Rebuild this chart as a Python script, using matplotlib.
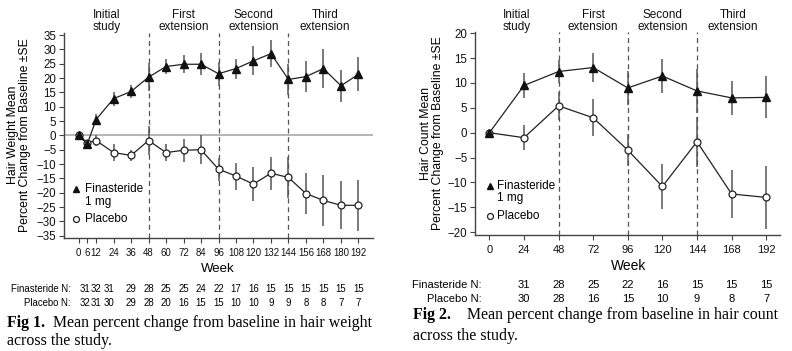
import matplotlib
matplotlib.use('Agg')
import matplotlib.pyplot as plt
import matplotlib.transforms as mtransforms

# ---- Fig 1: hair weight ----
weeks_w = [0, 6, 12, 24, 36, 48, 60, 72, 84, 96, 108, 120, 132, 144, 156, 168, 180, 192]
fin_w = [0, -3.0, 5.5, 12.8, 15.3, 20.3, 24.0, 24.8, 24.8, 21.5, 23.3, 26.0, 28.5, 19.5, 20.5, 23.3, 17.3, 21.3]
fin_w_se = [0.5, 1.0, 2.0, 2.4, 2.3, 5.0, 2.7, 3.2, 3.8, 4.2, 3.5, 5.0, 4.7, 5.5, 5.3, 6.7, 5.5, 6.0]
pla_w = [0, -2.5, -1.8, -6.0, -7.0, -1.8, -6.0, -5.2, -5.0, -11.8, -14.2, -17.0, -13.2, -14.7, -20.3, -22.7, -24.4, -24.4]
pla_w_se = [0.5, 1.0, 1.8, 3.0, 2.0, 5.0, 3.0, 4.0, 5.0, 4.0, 4.7, 6.0, 5.8, 7.3, 7.3, 8.8, 8.4, 9.0]
n_weeks_w = [6, 12, 24, 36, 48, 60, 72, 84, 96, 108, 120, 132, 144, 156, 168, 180, 192]
fin_n_w = [31, 32, 31, 29, 28, 25, 25, 24, 22, 17, 16, 15, 15, 15, 15, 15, 15]
pla_n_w = [32, 31, 30, 29, 28, 20, 16, 15, 15, 10, 10, 9, 9, 8, 8, 7, 7]

# ---- Fig 2: hair count ----
weeks_c = [0, 24, 48, 72, 96, 120, 144, 168, 192]
fin_c = [0, 9.5, 12.3, 13.1, 9.0, 11.4, 8.4, 7.0, 7.1]
fin_c_se = [0.4, 2.5, 2.4, 2.9, 3.4, 3.5, 4.5, 3.4, 4.2]
pla_c = [0, -1.0, 5.4, 3.0, -3.5, -10.8, -1.8, -12.3, -13.0]
pla_c_se = [0.4, 2.5, 2.8, 3.7, 3.2, 4.6, 5.0, 4.9, 6.3]
n_weeks_c = [24, 48, 72, 96, 120, 144, 168, 192]
fin_n_c = [31, 28, 25, 22, 16, 15, 15, 15]
pla_n_c = [30, 28, 16, 15, 10, 9, 8, 7]

phase_names = ['Initial\nstudy', 'First\nextension', 'Second\nextension', 'Third\nextension']
phase_centers = [19, 72, 120, 169]
phase_breaks = [48, 96, 144]

# the first N columns of Fig 1 are squeezed together, nudge them apart (pixels)
n_nudge_w = [-2.5, 0, -5]

W, H = 792, 351
SANS = ['Liberation Sans', 'DejaVu Sans']
SERIF = ['Liberation Serif', 'DejaVu Serif']

fig = plt.figure(figsize=(W / 100, H / 100), dpi=100)
fig.patch.set_facecolor('white')


def px(x, y):
    return x / W, 1 - y / H


def make_axes(x0, x1, y0, y1):
    return fig.add_axes([x0 / W, 1 - y1 / H, (x1 - x0) / W, (y1 - y0) / H])


def draw_panel(ax, weeks, fin, fin_se, pla, pla_se, xtick_size):
    for x in phase_breaks:
        ax.axvline(x, color='#555555', lw=0.9, ls=(0, (4, 3)), zorder=1)
    ax.errorbar(weeks, pla, yerr=pla_se, fmt='none', ecolor='#555555', elinewidth=1.1, capsize=0, zorder=2)
    ax.errorbar(weeks, fin, yerr=fin_se, fmt='none', ecolor='#555555', elinewidth=1.1, capsize=0, zorder=2)
    ax.plot(weeks, pla, color='#222222', lw=0.9, marker='o', ms=5, mfc='white', mec='#222222', mew=0.9, zorder=3)
    ax.plot(weeks, fin, color='#222222', lw=0.9, marker='^', ms=5.5, mfc='#111111', mec='#111111', zorder=4)
    for s in ['top', 'right']:
        ax.spines[s].set_visible(False)
    for s in ['left', 'bottom']:
        ax.spines[s].set_color('#444444')
        ax.spines[s].set_linewidth(1.0)
    ax.tick_params(direction='out', length=3.5, width=0.8, color='#444444', pad=2, labelcolor='#111111')
    ax.tick_params(axis='x', pad=4)
    for lab in ax.get_yticklabels():
        lab.set_family(SANS)
        lab.set_fontsize(8.3)
    for lab in ax.get_xticklabels():
        lab.set_family(SANS)
        lab.set_fontsize(xtick_size)
    # section labels above the plot
    trans = mtransforms.blended_transform_factory(ax.transData, fig.transFigure)
    for name, xc in zip(phase_names, phase_centers):
        ax.text(xc, 1 - 21 / H, name, transform=trans, ha='center', va='center',
                fontsize=8.5, family=SANS, color='#111111', linespacing=1.05)


def draw_n_rows(ax, n_weeks, fin_n, pla_n, label_right, y1, y2, size, nudge=()):
    trans = mtransforms.blended_transform_factory(ax.transData, fig.transFigure)
    for i, (x, a, b) in enumerate(zip(n_weeks, fin_n, pla_n)):
        dx = nudge[i] if i < len(nudge) else 0
        for val, yy in ((a, y1), (b, y2)):
            ax.annotate(str(val), (x, 1 - yy / H), xycoords=trans, xytext=(dx * 0.72, 0),
                        textcoords='offset points', ha='center', va='center',
                        fontsize=size, family=SANS)
    fig.text(*px(label_right, y1), 'Finasteride N:', ha='right', va='center', fontsize=size, family=SANS)
    fig.text(*px(label_right, y2), 'Placebo N:', ha='right', va='center', fontsize=size, family=SANS)


def draw_legend(mx, tx, y_fin, y_mg, y_pla, size):
    fig.lines.append(plt.Line2D([mx / W], [1 - y_fin / H], transform=fig.transFigure,
                                marker='^', ms=4.8, mfc='#111111', mec='#111111', ls='none'))
    fig.lines.append(plt.Line2D([mx / W], [1 - y_pla / H], transform=fig.transFigure,
                                marker='o', ms=4.3, mfc='white', mec='#222222', mew=0.9, ls='none'))
    fig.text(*px(tx, y_fin), 'Finasteride', ha='left', va='center', fontsize=size, family=SANS)
    fig.text(*px(tx, y_mg), '1 mg', ha='left', va='center', fontsize=size, family=SANS)
    fig.text(*px(tx, y_pla), 'Placebo', ha='left', va='center', fontsize=size, family=SANS)


# ---------------- left panel ----------------
ax1 = make_axes(64, 373, 33.3, 237.7)
ax1.axhline(0, color='#b0b0b0', lw=1.3, zorder=0)
ax1.set_xlim(-10, 202)
ax1.set_ylim(-35.7, 35.6)
ax1.set_xticks(weeks_w)
ax1.set_yticks(range(-35, 36, 5))
draw_panel(ax1, weeks_w, fin_w, fin_w_se, pla_w, pla_w_se, 6.9)
fig.text(*px(218, 269), 'Week', ha='center', va='center', fontsize=9.5, family=SANS)
fig.text(*px(19, 135), 'Hair Weight Mean\nPercent Change from Baseline \u00b1SE', rotation=90,
         ha='center', va='center', fontsize=8.8, family=SANS, linespacing=1.1)
draw_n_rows(ax1, n_weeks_w, fin_n_w, pla_n_w, 71, 289, 303.5, 6.9, n_nudge_w)
draw_legend(76, 85, 189, 201.5, 219, 8.5)

# ---------------- right panel ----------------
ax2 = make_axes(475, 780, 31.7, 235)
ax2.set_xlim(-10, 201.6)
ax2.set_ylim(-20.55, 20.3)
ax2.set_xticks(weeks_c)
ax2.set_yticks(range(-20, 21, 5))
draw_panel(ax2, weeks_c, fin_c, fin_c_se, pla_c, pla_c_se, 8)
fig.text(*px(629, 266.5), 'Week', ha='center', va='center', fontsize=10, family=SANS)
fig.text(*px(432, 133), 'Hair Count Mean\nPercent Change from Baseline \u00b1SE', rotation=90,
         ha='center', va='center', fontsize=8.8, family=SANS, linespacing=1.1)
draw_n_rows(ax2, n_weeks_c, fin_n_c, pla_n_c, 482, 285, 298.5, 8)
draw_legend(490, 497, 185.7, 198.3, 215.7, 8.5)

# ---------------- captions ----------------
CAP = 11.4
fig.text(*px(7, 323), 'Fig 1.', ha='left', va='center', fontsize=CAP, family=SERIF, weight='bold')
fig.text(*px(53, 323), 'Mean percent change from baseline in hair weight', ha='left', va='center',
         fontsize=CAP, family=SERIF)
fig.text(*px(7, 341), 'across the study.', ha='left', va='center', fontsize=CAP, family=SERIF)

fig.text(*px(413, 315), 'Fig 2.', ha='left', va='center', fontsize=CAP, family=SERIF, weight='bold')
fig.text(*px(467, 315), 'Mean percent change from baseline in hair count', ha='left', va='center',
         fontsize=CAP, family=SERIF)
fig.text(*px(413, 336), 'across the study.', ha='left', va='center', fontsize=CAP, family=SERIF)

fig.savefig('out.png', dpi=100)
